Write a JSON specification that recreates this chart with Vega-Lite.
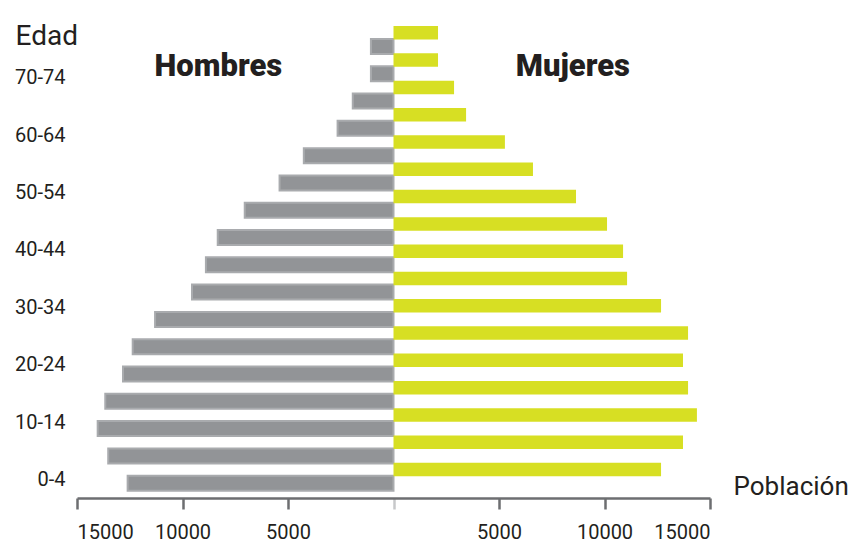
{
  "$schema": "https://vega.github.io/schema/vega-lite/v6.json",
  "autosize": "none",
  "width": 633,
  "height": 472,
  "padding": {"left": 77, "top": 26, "right": 148, "bottom": 45},
  "background": "white",
  "config": {
    "view": {"stroke": null},
    "font": "Roboto",
    "axis": {"labelFont": "Roboto", "titleFont": "Roboto"}
  },
  "datasets": {
    "hombres": [
      {"edad": "0-4", "sexo": "Hombres", "poblacion": -12600},
      {"edad": "5-9", "sexo": "Hombres", "poblacion": -13520},
      {"edad": "10-14", "sexo": "Hombres", "poblacion": -14020},
      {"edad": "15-19", "sexo": "Hombres", "poblacion": -13660},
      {"edad": "20-24", "sexo": "Hombres", "poblacion": -12820},
      {"edad": "25-29", "sexo": "Hombres", "poblacion": -12360},
      {"edad": "30-34", "sexo": "Hombres", "poblacion": -11300},
      {"edad": "35-39", "sexo": "Hombres", "poblacion": -9550},
      {"edad": "40-44", "sexo": "Hombres", "poblacion": -8890},
      {"edad": "45-49", "sexo": "Hombres", "poblacion": -8330},
      {"edad": "50-54", "sexo": "Hombres", "poblacion": -7050},
      {"edad": "55-59", "sexo": "Hombres", "poblacion": -5400},
      {"edad": "60-64", "sexo": "Hombres", "poblacion": -4250},
      {"edad": "65-69", "sexo": "Hombres", "poblacion": -2650},
      {"edad": "70-74", "sexo": "Hombres", "poblacion": -1930},
      {"edad": "75-79", "sexo": "Hombres", "poblacion": -1070},
      {"edad": "80+", "sexo": "Hombres", "poblacion": -1070}
    ],
    "mujeres": [
      {"edad": "0-4", "sexo": "Mujeres", "poblacion": 12680},
      {"edad": "5-9", "sexo": "Mujeres", "poblacion": 13720},
      {"edad": "10-14", "sexo": "Mujeres", "poblacion": 14380},
      {"edad": "15-19", "sexo": "Mujeres", "poblacion": 13960},
      {"edad": "20-24", "sexo": "Mujeres", "poblacion": 13720},
      {"edad": "25-29", "sexo": "Mujeres", "poblacion": 13960},
      {"edad": "30-34", "sexo": "Mujeres", "poblacion": 12680},
      {"edad": "35-39", "sexo": "Mujeres", "poblacion": 11070},
      {"edad": "40-44", "sexo": "Mujeres", "poblacion": 10880},
      {"edad": "45-49", "sexo": "Mujeres", "poblacion": 10120},
      {"edad": "50-54", "sexo": "Mujeres", "poblacion": 8650},
      {"edad": "55-59", "sexo": "Mujeres", "poblacion": 6610},
      {"edad": "60-64", "sexo": "Mujeres", "poblacion": 5280},
      {"edad": "65-69", "sexo": "Mujeres", "poblacion": 3440},
      {"edad": "70-74", "sexo": "Mujeres", "poblacion": 2870},
      {"edad": "75-79", "sexo": "Mujeres", "poblacion": 2110},
      {"edad": "80+", "sexo": "Mujeres", "poblacion": 2110}
    ]
  },
  "layer": [
    {
      "layer": [
        {
          "mark": {"type": "rule", "color": "#c7c8ca", "strokeWidth": 2.5},
          "encoding": {"x": {"datum": 0, "type": "quantitative"}}
        },
        {
          "data": {"name": "hombres"},
          "mark": {"type": "bar", "height": 15, "color": "#929497", "stroke": "#a9abae", "strokeWidth": 2},
          "encoding": {
            "y": {
              "field": "edad", "type": "ordinal",
              "scale": {"domain": ["80+", "75-79", "70-74", "65-69", "60-64", "55-59", "50-54", "45-49", "40-44", "35-39", "30-34", "25-29", "20-24", "15-19", "10-14", "5-9", "0-4"], "range": [0, 464], "paddingInner": 0, "paddingOuter": 0},
              "axis": null
            },
            "yOffset": {"field": "sexo", "type": "nominal", "scale": {"domain": ["Mujeres", "Hombres"], "paddingInner": 0, "paddingOuter": 0}},
            "x": {
              "field": "poblacion", "type": "quantitative",
              "scale": {"domain": [-15000, 15000], "nice": false},
              "axis": {
                "values": [-15000, -10000, -5000, 0, 5000, 10000, 15000],
                "labelExpr": "datum.value == 0 ? '' : '' + abs(datum.value)",
                "grid": false,
                "domainColor": "#6d6e71", "domainWidth": 2.5,
                "tickColor": {"condition": {"test": "datum.value == 0", "value": "#c7c8ca"}, "value": "#6d6e71"},
                "tickWidth": 2.5, "tickSize": 11,
                "labelFontSize": 20, "labelColor": "#231f20", "labelPadding": 13,
                "title": "Población", "titleX": 656, "titleY": -4, "titleAlign": "left", "titleBaseline": "alphabetic",
                "titleFontSize": 26, "titleFontWeight": "normal", "titleColor": "#231f20"
              }
            }
          }
        },
        {
          "data": {"name": "mujeres"},
          "mark": {"type": "bar", "height": 13.5, "color": "#d7df23"},
          "encoding": {
            "y": {"field": "edad", "type": "ordinal", "axis": null},
            "yOffset": {"field": "sexo", "type": "nominal"},
            "x": {"field": "poblacion", "type": "quantitative"}
          }
        },
        {
          "data": {"values": [{"sexo": "Hombres"}]},
          "mark": {"type": "text", "fontSize": 31, "fontWeight": 900, "color": "#231f20", "baseline": "middle", "align": "center"},
          "encoding": {
            "x": {"datum": -8300, "type": "quantitative"},
            "y": {"datum": "75-79", "type": "ordinal", "axis": null},
            "text": {"field": "sexo"}
          }
        },
        {
          "data": {"values": [{"sexo": "Mujeres"}]},
          "mark": {"type": "text", "fontSize": 31, "fontWeight": 900, "color": "#231f20", "baseline": "middle", "align": "center"},
          "encoding": {
            "x": {"datum": 8500, "type": "quantitative"},
            "y": {"datum": "75-79", "type": "ordinal", "axis": null},
            "text": {"field": "sexo"}
          }
        }
      ]
    },
    {
      "data": {"name": "hombres"},
      "mark": {"type": "tick", "opacity": 0},
      "encoding": {
        "y": {
          "field": "edad", "type": "ordinal",
          "scale": {"domain": ["80+", "75-79", "70-74", "65-69", "60-64", "55-59", "50-54", "45-49", "40-44", "35-39", "30-34", "25-29", "20-24", "15-19", "10-14", "5-9", "0-4"], "range": [-19.5, 468.4], "paddingInner": 0, "paddingOuter": 0},
          "axis": {
            "orient": "left",
            "values": ["0-4", "10-14", "20-24", "30-34", "40-44", "50-54", "60-64", "70-74"],
            "domain": false, "ticks": false, "labelPadding": 12,
            "labelFontSize": 20, "labelColor": "#231f20",
            "title": "Edad", "titleAngle": 0, "titleX": -62, "titleY": 18, "titleAlign": "left", "titleBaseline": "alphabetic",
            "titleFontSize": 28, "titleFontWeight": "normal", "titleColor": "#231f20"
          }
        }
      }
    }
  ],
  "resolve": {"scale": {"y": "independent"}, "axis": {"y": "independent"}}
}
